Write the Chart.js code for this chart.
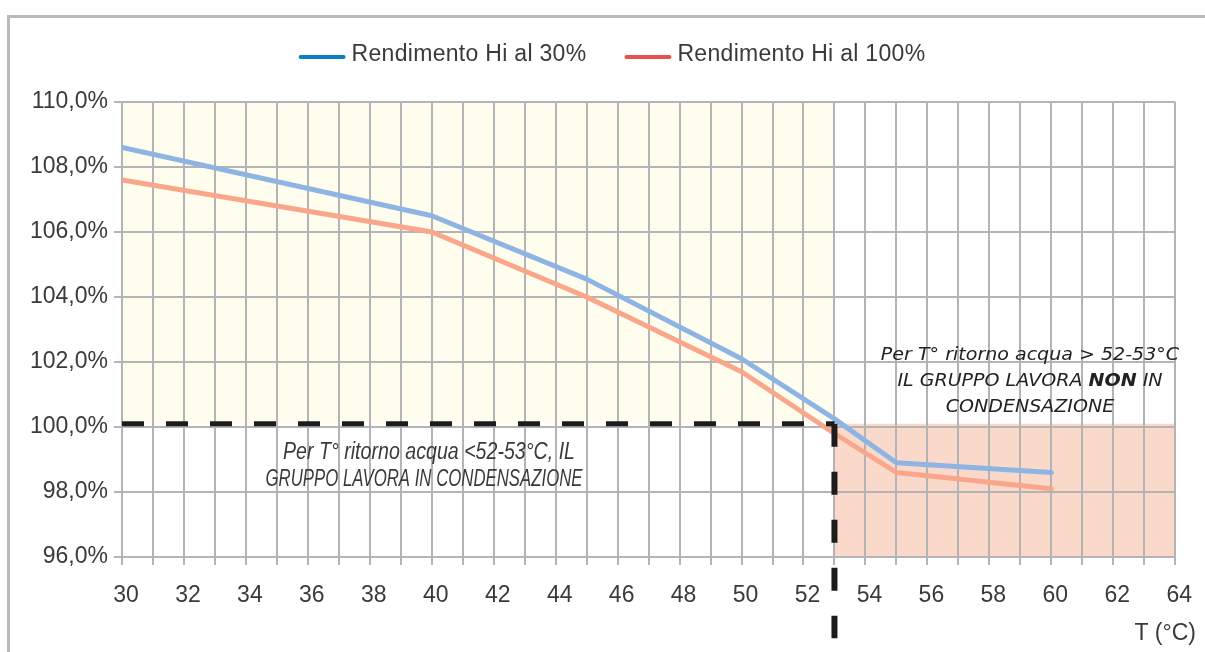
<!DOCTYPE html>
<html>
<head>
<meta charset="utf-8">
<script src="https://cdn.jsdelivr.net/npm/chart.js@4.4.1/dist/chart.umd.min.js"></script>
<style>
  html, body { margin: 0; padding: 0; background: #fff; }
  #wrap { position: relative; width: 1205px; height: 652px; overflow: hidden; }
  #frame { position: absolute; left: 7px; top: 15px; width: 1300px; height: 800px;
           border-left: 3px solid #b9b9bb; border-top: 3px solid #b9b9bb; }
  canvas { position: absolute; left: 0; top: 0; }
</style>
</head>
<body>
<div id="wrap">
  <div id="frame"></div>
  <canvas id="chart" width="1205" height="652"></canvas>
</div>
<script>
// data
const temps = [30, 40, 45, 50, 53, 55, 60];
const rend30 = [108.6, 106.5, 104.55, 102.1, 100.25, 98.9, 98.6];
const rend100 = [107.6, 106.0, 104.0, 101.7, 99.8, 98.6, 98.1];
const seriesNames = ['Rendimento Hi al 30%', 'Rendimento Hi al 100%'];

// axis range
const xMin = 30, xMax = 64;
const yMin = 96, yMax = 110;

// condensing limit (dashed lines and shaded zones)
const limitT = 53;
const limitR = 100.1;
const dashEnd = 93.5;

const noteLow = ['Per T° ritorno acqua <52-53°C, IL', 'GRUPPO LAVORA IN CONDENSAZIONE'];
const noteHigh = [
    [['Per T° ritorno acqua > 52-53°C', false]],
    [['IL GRUPPO LAVORA ', false], ['NON', true], [' IN', false]],
    [['CONDENSAZIONE', false]]
];
const axisTitle = 'T (°C)';

const lineColors = ['#8eb4e3', '#f9a68b'];
const legendColors = ['#0b7dc3', '#e9514f'];
const textColor = '#3a3a3a';
const gridColor = '#b4b4b7';
const baseFont = '"Liberation Sans", Arial, sans-serif';

const toPoints = (xs, ys) => xs.map((t, i) => ({ x: t, y: ys[i] }));

const decor = {
    id: 'decor',
    beforeDraw(chart) {
        const { ctx, scales: { x, y } } = chart;
        ctx.save();
        // condensing zone
        ctx.fillStyle = '#fffded';
        ctx.fillRect(x.getPixelForValue(xMin), y.getPixelForValue(yMax),
            x.getPixelForValue(limitT) - x.getPixelForValue(xMin),
            y.getPixelForValue(limitR) - y.getPixelForValue(yMax));
        // non condensing zone
        ctx.fillStyle = '#fad9ca';
        ctx.fillRect(x.getPixelForValue(limitT), y.getPixelForValue(limitR),
            x.getPixelForValue(xMax) - x.getPixelForValue(limitT),
            y.getPixelForValue(yMin) - y.getPixelForValue(limitR));
        ctx.restore();
    },
    afterDraw(chart) {
        const { ctx } = chart;
        ctx.save();

        // legend
        ctx.font = '23px ' + baseFont;
        ctx.letterSpacing = '0.3px';
        ctx.textBaseline = 'middle';
        const lineLen = 47, textGap = 6, itemGap = 38;
        const widths = seriesNames.map(n => lineLen + textGap + ctx.measureText(n).width);
        const total = widths.reduce((a, b) => a + b, 0) + itemGap * (widths.length - 1);
        let lx = 612 - total / 2;
        seriesNames.forEach((name, i) => {
            ctx.strokeStyle = legendColors[i];
            ctx.lineWidth = 4;
            ctx.lineCap = 'round';
            ctx.beginPath();
            ctx.moveTo(lx + 2, 57);
            ctx.lineTo(lx + lineLen - 2, 57);
            ctx.stroke();
            ctx.fillStyle = textColor;
            ctx.textAlign = 'left';
            ctx.fillText(name, lx + lineLen + textGap, 55);
            lx += widths[i] + itemGap;
        });
        ctx.letterSpacing = '0px';

        // axis title
        ctx.font = '23px ' + baseFont;
        ctx.textAlign = 'right';
        ctx.fillStyle = textColor;
        ctx.fillText(axisTitle, 1196, 634);

        // note, condensing side (narrow italic)
        ctx.font = 'italic 23px ' + baseFont;
        ctx.textAlign = 'center';
        const lowCenters = [429, 424];
        const lowWidths = [292, 317];
        noteLow.forEach((line, i) => {
            const sx = lowWidths[i] / ctx.measureText(line).width;
            ctx.save();
            ctx.translate(lowCenters[i], 453 + i * 27);
            ctx.scale(sx, 1);
            ctx.fillText(line, 0, 0);
            ctx.restore();
        });

        // note, non condensing side
        const highX = 1030;
        ctx.fillStyle = '#222';
        noteHigh.forEach((segs, i) => {
            const fonts = segs.map(s => (s[1] ? 'italic bold' : 'italic') + ' 17px "DejaVu Sans", Verdana, sans-serif');
            const ws = segs.map((s, k) => { ctx.font = fonts[k]; return ctx.measureText(s[0]).width; });
            const lw = ws.reduce((a, b) => a + b, 0);
            ctx.save();
            ctx.translate(highX, 356 + i * 26);
            ctx.scale(1.12, 1);
            let sx = -lw / 2;
            ctx.textAlign = 'left';
            segs.forEach((s, k) => {
                ctx.font = fonts[k];
                ctx.fillText(s[0], sx, 0);
                sx += ws[k];
            });
            ctx.restore();
        });
        ctx.restore();
    }
};

new Chart(document.getElementById('chart'), {
    type: 'line',
    data: {
        datasets: [
            {
                label: 'limit-h',
                data: [{ x: xMin, y: limitR }, { x: limitT, y: limitR }],
                borderColor: '#1c1c1c',
                borderWidth: 5,
                borderDash: [22, 22],
                borderCapStyle: 'butt',
                pointRadius: 0,
                order: 0
            },
            {
                label: 'limit-v',
                data: [{ x: limitT, y: limitR }, { x: limitT, y: dashEnd }],
                borderColor: '#1c1c1c',
                borderWidth: 6,
                borderDash: [23, 25],
                borderCapStyle: 'butt',
                pointRadius: 0,
                clip: false,
                order: 0
            },
            {
                label: seriesNames[0],
                data: toPoints(temps, rend30),
                borderColor: lineColors[0],
                borderWidth: 5,
                borderCapStyle: 'round',
                borderJoinStyle: 'round',
                pointRadius: 0,
                tension: 0,
                order: 1
            },
            {
                label: seriesNames[1],
                data: toPoints(temps, rend100),
                borderColor: lineColors[1],
                borderWidth: 5,
                borderCapStyle: 'round',
                borderJoinStyle: 'round',
                pointRadius: 0,
                tension: 0,
                order: 1
            }
        ]
    },
    options: {
        responsive: false,
        animation: false,
        layout: { padding: { top: 102, right: 28, bottom: 0, left: 0 } },
        plugins: {
            legend: { display: false },
            tooltip: { enabled: false }
        },
        scales: {
            x: {
                type: 'linear',
                min: xMin,
                max: xMax,
                afterFit: (s) => { s.height = 95; },
                ticks: {
                    stepSize: 1,
                    autoSkip: false,
                    maxRotation: 0,
                    padding: 17,
                    labelOffset: 4,
                    color: textColor,
                    font: { family: baseFont, size: 23 },
                    callback: (v) => (v % 2 === 0 ? String(v) : '')
                },
                grid: { color: gridColor, lineWidth: 2, tickLength: 8 },
                border: { color: gridColor, width: 2 }
            },
            y: {
                min: yMin,
                max: yMax,
                afterFit: (s) => { s.width = 122; },
                ticks: {
                    stepSize: 2,
                    padding: 6,
                    color: textColor,
                    font: { family: baseFont, size: 23 },
                    callback: (v) => v.toFixed(1).replace('.', ',') + '%'
                },
                grid: { color: gridColor, lineWidth: 2, tickLength: 8 },
                border: { color: gridColor, width: 2 }
            }
        }
    },
    plugins: [decor]
});
</script>
</body>
</html>
